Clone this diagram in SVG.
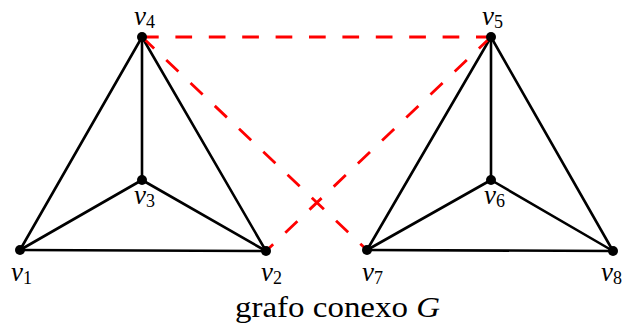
<svg xmlns="http://www.w3.org/2000/svg" width="627" height="326" viewBox="0 0 627 326">
<style>
.e{stroke:#000;stroke-width:2.6;fill:none;stroke-linecap:round}
.d{stroke:#f00;stroke-width:2.8;fill:none;stroke-dasharray:16.7 16.7}
.n{fill:#000}
.l{font-family:"Liberation Serif",serif;font-style:italic;font-size:27px;fill:#000}
.s{font-style:normal;font-size:18px}
.t{font-family:"Liberation Serif",serif;font-size:29px;fill:#000}
</style>
<rect width="627" height="326" fill="#fff"/>
<g id="connectors">
<line class="e" x1="142" y1="37" x2="20" y2="250"/>
<line class="e" x1="142" y1="37" x2="142" y2="180"/>
<line class="e" x1="142" y1="37" x2="266" y2="251"/>
<line class="e" x1="142" y1="180" x2="20" y2="250"/>
<line class="e" x1="142" y1="180" x2="266" y2="251"/>
<line class="e" x1="20" y1="250" x2="266" y2="251"/>
<line class="e" x1="491" y1="37" x2="367" y2="250"/>
<line class="e" x1="491" y1="37" x2="491" y2="180"/>
<line class="e" x1="491" y1="37" x2="613" y2="251"/>
<line class="e" x1="491" y1="180" x2="367" y2="250"/>
<line class="e" x1="491" y1="180" x2="613" y2="251"/>
<line class="e" x1="367" y1="250" x2="613" y2="251"/>
<line class="d" x1="142" y1="37" x2="491" y2="37"/>
<line class="d" x1="142" y1="37" x2="367" y2="250"/>
<line class="d" x1="491" y1="37" x2="266" y2="251"/>
</g>
<g id="v1"><circle class="n" cx="20" cy="250" r="5"/><text class="l" x="11" y="281">v<tspan class="s" dy="3">1</tspan></text></g>
<g id="v2"><circle class="n" cx="266" cy="251" r="5"/><text class="l" x="261" y="281">v<tspan class="s" dy="3">2</tspan></text></g>
<g id="v3"><circle class="n" cx="142" cy="180" r="5"/><text class="l" x="134" y="204">v<tspan class="s" dy="3">3</tspan></text></g>
<g id="v4"><circle class="n" cx="142" cy="37" r="5"/><text class="l" x="134" y="25">v<tspan class="s" dy="3">4</tspan></text></g>
<g id="v5"><circle class="n" cx="491" cy="37" r="5"/><text class="l" x="482" y="25">v<tspan class="s" dy="3">5</tspan></text></g>
<g id="v6"><circle class="n" cx="491" cy="180" r="5"/><text class="l" x="484" y="204">v<tspan class="s" dy="3">6</tspan></text></g>
<g id="v7"><circle class="n" cx="367" cy="250" r="5"/><text class="l" x="362" y="281">v<tspan class="s" dy="3">7</tspan></text></g>
<g id="v8"><circle class="n" cx="613" cy="251" r="5"/><text class="l" x="601" y="281">v<tspan class="s" dy="3">8</tspan></text></g>
<text class="t" x="235" y="317" textLength="205" lengthAdjust="spacingAndGlyphs">grafo conexo <tspan font-style="italic">G</tspan></text>
</svg>
